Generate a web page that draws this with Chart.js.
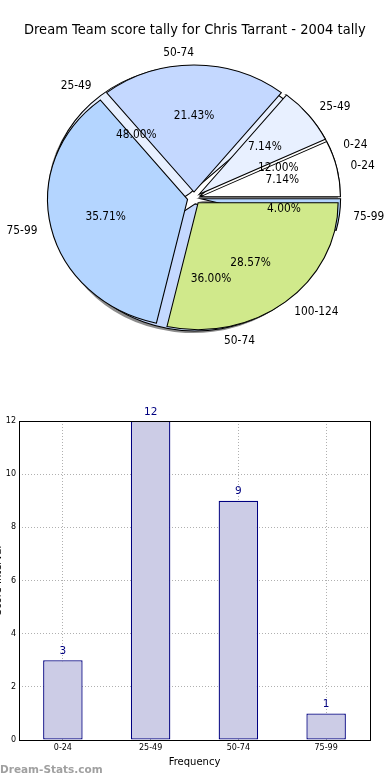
<!DOCTYPE html>
<html><head><meta charset="utf-8">
<script src="https://cdn.jsdelivr.net/npm/chart.js@4.4.1/dist/chart.umd.min.js"></script>
<style>
html,body{margin:0;padding:0;background:#fff;width:390px;height:780px;overflow:hidden;position:relative;font-family:"DejaVu Sans",sans-serif;}
.pie{position:absolute;left:0;top:0;}
#title{position:absolute;left:0;top:21px;width:390px;text-align:center;font-size:14.5px;line-height:17px;color:#000;white-space:nowrap;}
#title span{display:inline-block;transform:scaleX(0.9);}
#barWrap{position:absolute;left:-8px;top:400px;width:398px;height:380px;}
#wm{position:absolute;left:0;top:763px;font-size:10.5px;font-weight:bold;line-height:13px;color:#a0a0a0;white-space:nowrap;}
</style></head>
<body>
<canvas id="pieB" class="pie" width="388" height="396"></canvas>
<canvas id="pieA" class="pie" width="388" height="396"></canvas>
<div id="title"><span>Dream Team score tally for Chris Tarrant - 2004 tally</span></div>
<div id="barWrap"><canvas id="bar" width="398" height="380"></canvas></div>
<div id="wm">Dream-Stats.com</div>
<script>
// ---- data ----
const tallyCategories = ['0-24', '25-49', '50-74', '75-99', '100-124'];
const tallyCounts = [2, 2, 6, 10, 8];
const freqCategories = ['0-24', '25-49', '50-74', '75-99'];
const freqCounts = [3, 12, 9, 1];
const sliceColors = ['#ffffff', '#e8f0ff', '#c4d8ff', '#b4d5ff', '#d0e98b'];
const yTicks = [0, 2, 4, 6, 8, 10, 12];
const xTitle = 'Frequency';
const yTitle = 'Score Interval';

// ---- pie geometry ----
const CX = 194, CY = 198, R = 127, SX = 140 / 127, EXPLODE = 6, TXT_SX = 0.85;
const FONT = '"DejaVu Sans", sans-serif';

const explodePlugin = {
  id: 'explode',
  afterDatasetsUpdate(chart) {
    const a = chart.chartArea;
    const cx = (a.left + a.right) / 2, cy = (a.top + a.bottom) / 2;
    chart.getDatasetMeta(0).data.forEach(arc => {
      const mid = (arc.startAngle + arc.endAngle) / 2;
      arc.x = cx + Math.cos(mid) * EXPLODE;
      arc.y = cy + Math.sin(mid) * EXPLODE;
    });
  }
};

function ellipsePlugin(withShadow) {
  return {
    id: 'ellipse',
    beforeDatasetsDraw(chart) {
      const ctx = chart.ctx;
      ctx.save();
      ctx.translate(CX, CY); ctx.scale(SX, 1); ctx.translate(-CX, -CY);
      if (withShadow) {
        const dx = -2.2 / SX, dy = 2.2;
        chart.getDatasetMeta(0).data.forEach(arc => {
          ctx.beginPath();
          ctx.moveTo(arc.x + dx, arc.y + dy);
          ctx.arc(arc.x + dx, arc.y + dy, arc.outerRadius, arc.startAngle, arc.endAngle);
          ctx.closePath();
          ctx.fillStyle = 'rgba(0,0,0,0.45)';
          ctx.fill();
        });
      }
    },
    afterDatasetsDraw(chart) { chart.ctx.restore(); }
  };
}

function drawText(ctx, txt, x, y, align) {
  ctx.save();
  ctx.translate(x, y);
  ctx.scale(TXT_SX, 1);
  ctx.textAlign = align;
  ctx.textBaseline = 'middle';
  ctx.fillText(txt, 0, 0);
  ctx.restore();
}

function drawPieLabels(ctx, chart) {
  const ds = chart.data.datasets[0];
  const total = ds.data.reduce((s, v) => s + v, 0);
  ctx.save();
  ctx.fillStyle = '#000';
  ctx.font = '12.5px ' + FONT;
  chart.getDatasetMeta(0).data.forEach((arc, i) => {
    const mid = (arc.startAngle + arc.endAngle) / 2;
    const c = Math.cos(mid), s = Math.sin(mid);
    const rp = 0.6 * R + EXPLODE, rl = 1.1 * R + EXPLODE;
    drawText(ctx, (ds.data[i] / total * 100).toFixed(2) + '%', CX + SX * c * rp, CY + s * rp, 'center');
    drawText(ctx, chart.data.labels[i], CX + SX * c * rl, CY + s * rl, c > 1e-6 ? 'left' : 'right');
  });
  ctx.restore();
}

function pieConfig(labels, values, plugins) {
  return {
    type: 'pie',
    data: {
      labels: labels.slice().reverse(),
      datasets: [{
        data: values.slice().reverse(),
        backgroundColor: sliceColors.slice(0, labels.length).reverse(),
        borderColor: '#000', borderWidth: 1, borderJoinStyle: 'miter',
        radius: R, rotation: 90, clip: false
      }]
    },
    options: {
      responsive: false, animation: false, events: [],
      rotation: 90, radius: R,
      layout: { padding: 0 },
      plugins: { legend: { display: false }, tooltip: { enabled: false }, title: { display: false } }
    },
    plugins: plugins
  };
}

const pieB = new Chart(document.getElementById('pieB'),
  pieConfig(freqCategories, freqCounts, [explodePlugin, ellipsePlugin(true)]));

const labelsPlugin = {
  id: 'pieLabels',
  afterDraw(chart) {
    drawPieLabels(chart.ctx, chart);
    drawPieLabels(chart.ctx, pieB);
  }
};
const pieA = new Chart(document.getElementById('pieA'),
  pieConfig(tallyCategories, tallyCounts, [explodePlugin, ellipsePlugin(false), labelsPlugin]));

// ---- bar chart ----
const framePlugin = {
  id: 'frame',
  afterDatasetsDraw(chart) {
    const a = chart.chartArea, ctx = chart.ctx;
    ctx.save();
    ctx.strokeStyle = '#000'; ctx.lineWidth = 1;
    ctx.strokeRect(Math.round(a.left) + 0.5, Math.round(a.top) + 0.5,
      Math.round(a.right - a.left), Math.round(a.bottom - a.top));
    ctx.restore();
  }
};
const valuePlugin = {
  id: 'values',
  afterDatasetsDraw(chart) {
    const ctx = chart.ctx, ds = chart.data.datasets[0];
    ctx.save();
    ctx.fillStyle = '#000080';
    ctx.font = '10.5px ' + FONT;
    ctx.textAlign = 'center'; ctx.textBaseline = 'middle';
    chart.getDatasetMeta(0).data.forEach((bar, i) => {
      ctx.fillText(String(ds.data[i]), bar.x, bar.y - 9);
    });
    ctx.restore();
  }
};

new Chart(document.getElementById('bar'), {
  type: 'bar',
  data: {
    labels: freqCategories,
    datasets: [{
      data: freqCounts,
      backgroundColor: '#cccce6', borderColor: '#000080', borderWidth: 1.3,
      borderSkipped: false, barPercentage: 0.45, categoryPercentage: 1
    }]
  },
  options: {
    responsive: false, animation: false, events: [],
    layout: { padding: { top: 21, right: 20, left: 0, bottom: 0 } },
    plugins: { legend: { display: false }, tooltip: { enabled: false } },
    scales: {
      x: {
        grid: { offset: false, color: '#b0b0b0', lineWidth: 1, drawTicks: false },
        border: { display: false, dash: [1, 2] },
        ticks: { color: '#000', font: { size: 8, family: FONT }, padding: 3, maxRotation: 0 },
        title: { display: true, text: xTitle, color: '#000', font: { size: 10, family: FONT }, padding: { top: 0, bottom: 12 } },
        afterFit(s) { s.height = 40; }
      },
      y: {
        min: yTicks[0], max: yTicks[yTicks.length - 1],
        afterBuildTicks(s) { s.ticks = yTicks.map(v => ({ value: v })); },
        grid: { color: '#b0b0b0', lineWidth: 1, drawTicks: false },
        border: { display: false, dash: [1, 2] },
        ticks: { color: '#000', font: { size: 8, family: FONT }, padding: 3 },
        title: { display: true, text: yTitle, color: '#000', font: { size: 10, family: FONT }, padding: 0 },
        afterFit(s) { s.width = 27; }
      }
    }
  },
  plugins: [framePlugin, valuePlugin]
});
</script>
</body></html>
